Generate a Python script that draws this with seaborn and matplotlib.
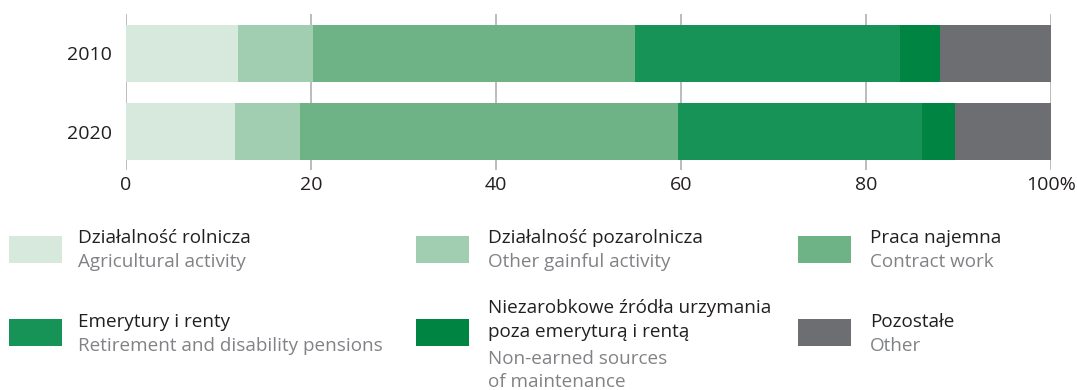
import numpy as np
import pandas as pd
import matplotlib
matplotlib.use("Agg")
import matplotlib.pyplot as plt
from matplotlib.patches import Rectangle
import seaborn as sns

# Household income sources, share in %
years = ["2010", "2020"]
rolnicza = [12.1, 11.8]
pozarolnicza = [8.1, 7.0]
najemna = [34.8, 40.9]
emerytury = [28.7, 26.4]
niezarobkowe = [4.3, 3.5]
pozostale = [12.0, 10.4]

x_ticks = [0, 20, 40, 60, 80, 100]
x_tick_labels = ["0", "20", "40", "60", "80", "100%"]

series = [rolnicza, pozarolnicza, najemna, emerytury, niezarobkowe, pozostale]
colors = ["#d6e9dc", "#a1cdb0", "#6db386", "#179357", "#008442", "#6d6e71"]

legend_pl = [
    "Działalność rolnicza",
    "Działalność pozarolnicza",
    "Praca najemna",
    "Emerytury i renty",
    "Niezarobkowe źródła urzymania\npoza emeryturą i rentą",
    "Pozostałe",
]
legend_en = [
    "Agricultural activity",
    "Other gainful activity",
    "Contract work",
    "Retirement and disability pensions",
    "Non-earned sources\nof maintenance",
    "Other",
]

sns.set_theme(style="white")
plt.rcParams["font.family"] = ["Open Sans", "DejaVu Sans"]

W, H = 1077, 390
fig = plt.figure(figsize=(W / 100, H / 100), dpi=100)
ax = fig.add_axes([126 / W, 1 - 170 / H, (1050.7 - 126) / W, 156 / H])

values = np.array(series)              # shape (segments, years)
cumulative = np.cumsum(values, axis=0)

# Stacked bars: draw running totals from the outermost segment inwards
for i in reversed(range(len(series))):
    df = pd.DataFrame({"year": years, "share": cumulative[i]})
    sns.barplot(data=df, x="share", y="year", orient="h", color=colors[i],
                saturation=1, width=0.724, errorbar=None, ax=ax, linewidth=0)

ax.set_xlim(0, 100)
ax.set_ylim(1.49, -0.50)
ax.set_xticks(x_ticks)
ax.set_xticklabels(x_tick_labels)
ax.set_xlabel("")
ax.set_ylabel("")
for s in ax.spines.values():
    s.set_visible(False)
ax.set_axisbelow(True)
ax.grid(axis="x", color="#a7a9ac", linewidth=1.1)
ax.grid(axis="y", visible=False)
ax.tick_params(axis="x", length=0, pad=4, labelsize=14, labelcolor="#231f20")
ax.tick_params(axis="y", length=0, pad=10, labelsize=14, labelcolor="#231f20")

# Legend: swatch + Polish label + English label
def fx(px):
    return px / W

def fy(py):
    return 1 - py / H

cols_patch = [9, 416, 798]
cols_text = [78, 488, 870]
row_patch_top = [236, 319]
line_h = 24
fs = 13.6

for k in range(6):
    r, c = divmod(k, 3)
    fig.add_artist(Rectangle((fx(cols_patch[c]), fy(row_patch_top[r] + 27)),
                             53 / W, 27 / H, transform=fig.transFigure,
                             facecolor=colors[k], edgecolor="none"))
    pl_lines = legend_pl[k].split("\n")
    en_lines = legend_en[k].split("\n")
    if r == 0:
        base = 243
    elif len(pl_lines) > 1:
        base = 313
    else:
        base = 327
    y = base
    for ln in pl_lines:
        fig.text(fx(cols_text[c]), fy(y), ln, fontsize=fs, color="#231f20",
                 va="baseline", ha="left")
        y += line_h
    if len(pl_lines) > 1:
        y += 3
    for ln in en_lines:
        fig.text(fx(cols_text[c]), fy(y), ln, fontsize=fs, color="#808285",
                 va="baseline", ha="left")
        y += line_h - 1

fig.savefig("out.png", dpi=100)
